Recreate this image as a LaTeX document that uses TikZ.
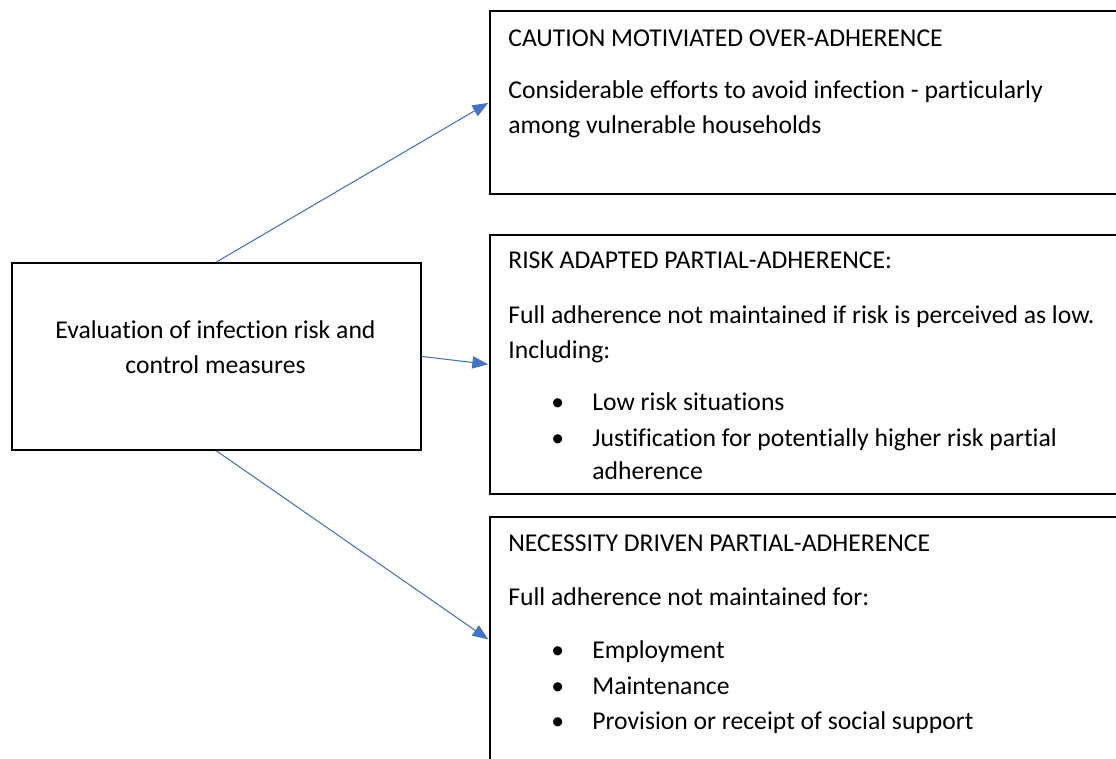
\documentclass[tikz,border=0pt]{standalone}
\usepackage{fontspec}
\setmainfont{Carlito}[Ligatures=NoCommon]
\usetikzlibrary{arrows.meta}

\definecolor{linkblue}{HTML}{4472C4}

\tikzset{
  box/.style={draw, line width=1.1pt, anchor=north west, inner sep=0pt},
  txt/.style={anchor=base west, inner sep=0pt},
  link/.style={draw=linkblue, line width=0.6pt, -{Triangle[length=9pt,width=7pt]}, shorten >=0.5pt}
}

\begin{document}
\begin{tikzpicture}[x=0.02cm,y=-0.02cm,font=\fontsize{14.6}{19.8}\selectfont]
\useasboundingbox (0,0) rectangle (1116,759);
\clip (0,0) rectangle (1116,759);

% boxes
\node[box, minimum width=8.18cm, minimum height=3.74cm] (eval) at (11,262) {};
\node[box, minimum width=13.2cm, minimum height=3.66cm] (caution) at (489,10) {};
\node[box, minimum width=13.2cm, minimum height=5.18cm] (risk) at (489,234) {};
\node[box, minimum width=13.2cm, minimum height=4.92cm] (need) at (489,516) {};

% left box text
\node[inner sep=0pt, align=center] (evaltext) at (215.5,347) {Evaluation of infection risk and\\control measures};

% top box
\node[txt] at (508,47) {CAUTION MOTIVIATED OVER-ADHERENCE};
\node[txt] at (508,99) {Considerable efforts to avoid infection - particularly};
\node[txt] at (508,134) {among vulnerable households};

% middle box
\node[txt] at (508,269) {RISK ADAPTED PARTIAL-ADHERENCE:};
\node[txt] at (508,324) {Full adherence not maintained if risk is perceived as low.};
\node[txt] at (508,359) {Including:};
\node[txt] at (551,411) {\textbullet};
\node[txt] at (592,411) {Low risk situations};
\node[txt] at (551,447) {\textbullet};
\node[txt] at (592,447) {Justification for potentially higher risk partial};
\node[txt] at (592,480) {adherence};

% bottom box
\node[txt] at (508,552) {NECESSITY DRIVEN PARTIAL-ADHERENCE};
\node[txt] at (508,606) {Full adherence not maintained for:};
\node[txt] at (551,659) {\textbullet};
\node[txt] at (592,659) {Employment};
\node[txt] at (551,695) {\textbullet};
\node[txt] at (592,695) {Maintenance};
\node[txt] at (551,730) {\textbullet};
\node[txt] at (592,730) {Provision or receipt of social support};

% arrows
\draw[link] (eval.north) -- (caution.west);
\draw[link] (eval.east) -- (risk.west);
\draw[link] (eval.south) -- (need.west);
\end{tikzpicture}
\end{document}
